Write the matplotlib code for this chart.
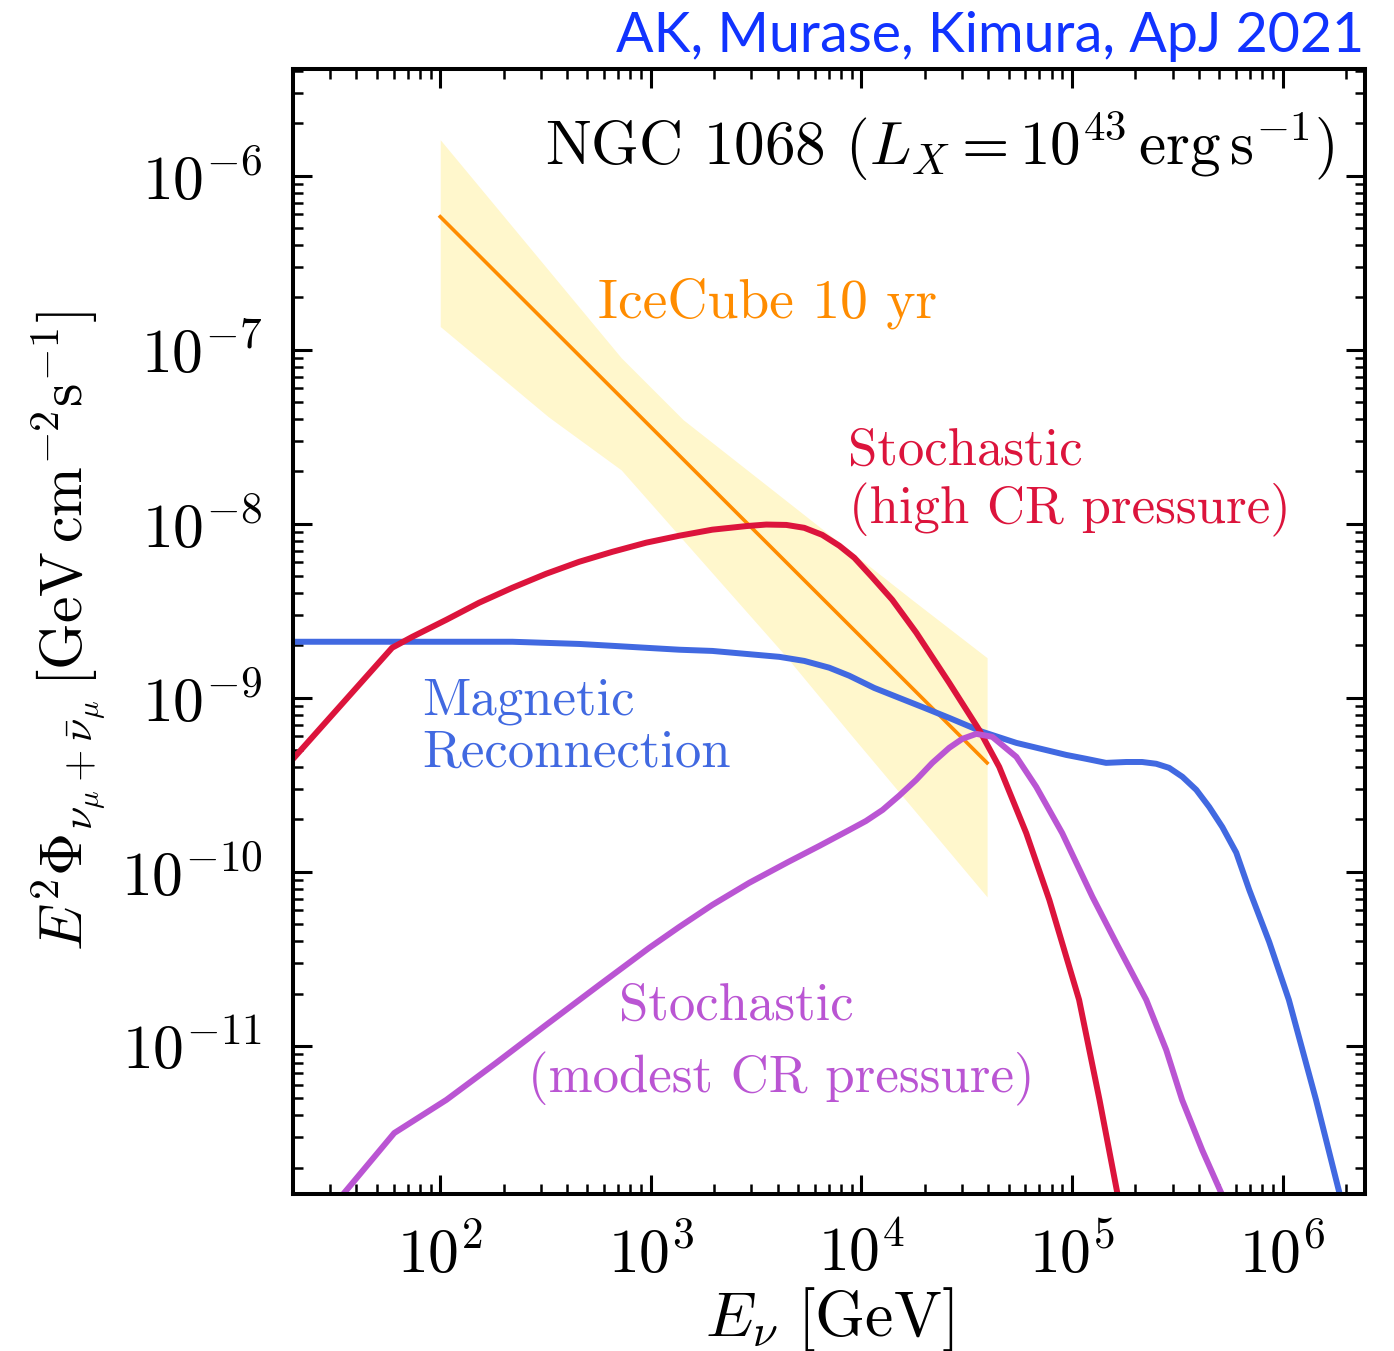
import numpy as np
import matplotlib
matplotlib.use("Agg")
import matplotlib.pyplot as plt

plt.rcParams['font.family'] = 'serif'
plt.rcParams['font.serif'] = ['cmr10']
plt.rcParams['mathtext.fontset'] = 'cm'
plt.rcParams['axes.formatter.use_mathtext'] = True

# magnetic reconnection model
E_mr = [20, 73.6, 220, 457, 656, 1365, 1958, 4074, 5350, 7031, 8750, 1.15e4, 1.51e4,
        1.99e4, 2.61e4, 3.75e4, 5.44e4, 7.14e4, 9.38e4, 1.17e5, 1.45e5, 1.81e5, 2.15e5,
        2.51e5, 2.89e5, 3.34e5, 3.89e5, 4.48e5, 5.17e5, 6.02e5, 6.94e5, 8.63e5, 1.07e6,
        1.44e6, 1.86e6, 2.2e6]
F_mr = [2.10e-9, 2.10e-9, 2.10e-9, 2.04e-9, 1.99e-9, 1.89e-9, 1.86e-9, 1.72e-9, 1.63e-9,
        1.49e-9, 1.34e-9, 1.14e-9, 1.0e-9, 8.76e-10, 7.67e-10, 6.38e-10, 5.51e-10,
        5.09e-10, 4.70e-10, 4.46e-10, 4.23e-10, 4.28e-10, 4.28e-10, 4.18e-10, 3.96e-10,
        3.52e-10, 2.96e-10, 2.36e-10, 1.81e-10, 1.29e-10, 7.88e-11, 3.96e-11, 1.84e-11,
        4.90e-12, 1.43e-12, 5e-13]

# stochastic acceleration, high CR pressure
E_hi = [19.8, 59.1, 73.6, 107, 153, 220, 318, 457, 656, 951, 1365, 1958, 2838, 3532,
        4400, 5350, 6510, 7850, 9250, 1.12e4, 1.40e4, 1.82e4, 2.61e4, 3.62e4, 4.51e4,
        6.06e4, 7.80e4, 1.08e5, 1.35e5, 1.64e5, 1.9e5]
F_hi = [4.40e-10, 1.94e-9, 2.24e-9, 2.81e-9, 3.52e-9, 4.29e-9, 5.16e-9, 6.05e-9, 6.90e-9,
        7.79e-9, 8.54e-9, 9.25e-9, 9.7e-9, 9.9e-9, 9.85e-9, 9.48e-9, 8.64e-9, 7.48e-9,
        6.38e-9, 4.96e-9, 3.66e-9, 2.37e-9, 1.22e-9, 6.55e-10, 4.01e-10, 1.67e-10,
        6.90e-11, 1.84e-11, 4.90e-12, 1.43e-12, 6e-13]

# stochastic acceleration, modest CR pressure
E_mod = [31, 60.5, 107, 184, 318, 569, 982, 1365, 1958, 2930, 4490, 6310, 8750, 1.05e4,
         1.26e4, 1.51e4, 1.82e4, 2.17e4, 2.61e4, 3.01e4, 3.51e4, 4.18e4, 5.44e4, 6.76e4,
         8.98e4, 1.25e5, 1.64e5, 2.25e5, 2.80e5, 3.33e5, 4.15e5, 5.11e5, 5.6e5]
F_mod = [1.2e-12, 3.16e-12, 4.90e-12, 7.98e-12, 1.32e-11, 2.24e-11, 3.66e-11, 4.83e-11,
         6.46e-11, 8.65e-11, 1.14e-10, 1.41e-10, 1.74e-10, 1.96e-10, 2.27e-10, 2.74e-10,
         3.38e-10, 4.23e-10, 5.16e-10, 5.81e-10, 6.21e-10, 5.97e-10, 4.58e-10, 3.08e-10,
         1.67e-10, 7.18e-11, 3.80e-11, 1.84e-11, 9.48e-12, 4.90e-12, 2.52e-12, 1.43e-12,
         9e-13]

# IceCube 10 yr best fit and band
E_ic = [100, 3.95e4]
F_ic = [5.81e-7, 4.23e-10]
E_up = [100, 723, 1425, 3770, 1.74e4, 3.95e4]
F_up = [1.61e-6, 9.0e-8, 3.96e-8, 1.57e-8, 3.66e-9, 1.70e-9]
E_lo = [100, 326, 723, 4400, 8750, 3.95e4]
F_lo = [1.36e-7, 4.12e-8, 2.04e-8, 1.72e-9, 6.30e-10, 7.18e-11]

E_band = np.unique(np.concatenate([E_up, E_lo]))
band_top = np.exp(np.interp(np.log(E_band), np.log(E_up), np.log(F_up)))
band_bot = np.exp(np.interp(np.log(E_band), np.log(E_lo), np.log(F_lo)))

fig = plt.figure(figsize=(13.94, 13.51), dpi=100)
ax = fig.add_axes([0.2102, 0.1162, 0.769, 0.8327])

ax.fill_between(E_band, band_bot, band_top, color='gold', alpha=0.2, lw=0)
ax.plot(E_ic, F_ic, color='darkorange', lw=2.6)
line_kw = dict(lw=4.3, solid_joinstyle='round', solid_capstyle='butt')
ax.plot(E_mr, F_mr, color='royalblue', **line_kw)
ax.plot(E_hi, F_hi, color='crimson', **line_kw)
ax.plot(E_mod, F_mod, color='mediumorchid', **line_kw)

ax.set_xscale('log')
ax.set_yscale('log')
ax.set_xlim(20, 2.46e6)
ax.set_ylim(1.41e-12, 4.1e-6)
ax.set_xticks([1e2, 1e3, 1e4, 1e5, 1e6])
ax.set_yticks([1e-11, 1e-10, 1e-9, 1e-8, 1e-7, 1e-6])

for s in ax.spines.values():
    s.set_linewidth(2.9)
ax.tick_params(which='both', direction='in', top=True, right=True, labelsize=44.5)
ax.tick_params(which='major', length=14, width=2.2, pad=22)
ax.tick_params(which='minor', length=7, width=1.8)

ax.set_xlabel(r'$E_\nu\ [\mathrm{GeV}]$', fontsize=46, labelpad=0)
ax.set_ylabel(r'$E^2\Phi_{\nu_\mu+\bar{\nu}_\mu}\,[\mathrm{GeV\,cm^{-2}s^{-1}}]$',
              fontsize=43, labelpad=9)

ax.text(0.972, 0.915, r'NGC 1068 $(L_X=10^{43}\,\mathrm{erg\,s^{-1}})$', transform=ax.transAxes,
        ha='right', va='baseline', fontsize=44)
ax.text(0.2845, 0.779, 'IceCube 10 yr', color='darkorange', transform=ax.transAxes,
        ha='left', va='baseline', fontsize=40)
ax.text(0.5177, 0.648, 'Stochastic', color='crimson', transform=ax.transAxes,
        ha='left', va='baseline', fontsize=38)
ax.text(0.519, 0.5964, '(high CR pressure)', color='crimson', transform=ax.transAxes,
        ha='left', va='baseline', fontsize=38)
ax.text(0.1203, 0.4258, 'Magnetic', color='royalblue', transform=ax.transAxes,
        ha='left', va='baseline', fontsize=38)
ax.text(0.1203, 0.3796, 'Reconnection', color='royalblue', transform=ax.transAxes,
        ha='left', va='baseline', fontsize=38)
ax.text(0.304, 0.1547, 'Stochastic', color='mediumorchid', transform=ax.transAxes,
        ha='left', va='baseline', fontsize=38)
ax.text(0.219, 0.0907, '(modest CR pressure)', color='mediumorchid', transform=ax.transAxes,
        ha='left', va='baseline', fontsize=38)

fig.text(0.979, 0.9615, 'AK, Murase, Kimura, ApJ 2021', color='#1133ff',
         family='Lato', ha='right', va='baseline', fontsize=40)

fig.savefig('out.png', dpi=100)
